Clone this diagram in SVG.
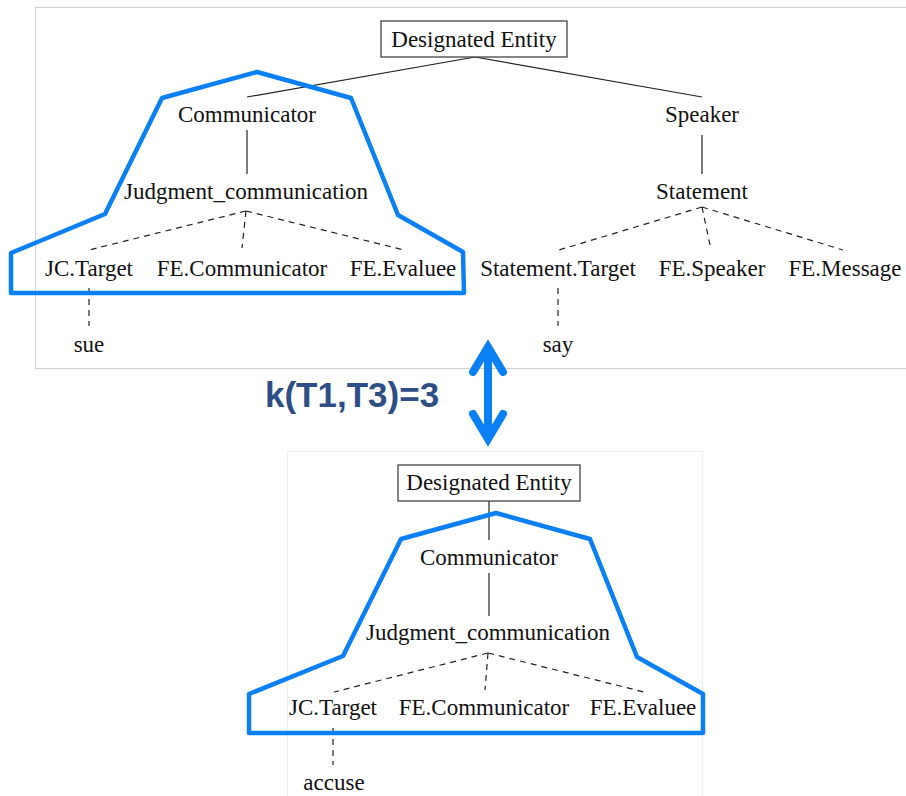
<svg xmlns="http://www.w3.org/2000/svg" width="906" height="796" viewBox="0 0 906 796">
<style>
  .t { font-family: "Liberation Serif", "Times New Roman", serif; font-size: 23px; fill: #111; text-anchor: middle; }
  .solid { stroke: #222; stroke-width: 1.2; fill: none; }
  .dash { stroke: #222; stroke-width: 1.2; fill: none; stroke-dasharray: 6 5; }
  .box { fill: #fff; stroke: #444; stroke-width: 1.3; }
  .hl { fill: none; stroke: #0B80F5; stroke-width: 4.5; stroke-linejoin: round; }
  .frame { fill: none; stroke: #cfcfcf; stroke-width: 1; }
  .frame2 { fill: none; stroke: #efefef; stroke-width: 1; }
  .arrow { fill: none; stroke: #0B80F5; stroke-width: 8; stroke-linecap: round; stroke-linejoin: miter; }
  .k { font-family: "Liberation Sans", Arial, sans-serif; font-weight: bold; font-size: 35px; fill: #2D4F86; }
</style>
<rect width="906" height="796" fill="#fff"/>
<rect class="frame" x="35.5" y="7.5" width="880" height="361"/>
<rect class="frame2" x="287.5" y="451.5" width="415" height="360"/>

<g id="connectors">
  <path class="solid" d="M475 57 L247 97 M475 57 L702 97"/>
  <path class="solid" d="M247 130 L247 174"/>
  <path class="dash" d="M246 211 L89 250 M246 211 L242 248 M246 211 L404 250"/>
  <path class="dash" d="M89 288 L89 326"/>
  <path class="solid" d="M702 135 L702 174"/>
  <path class="dash" d="M702 207 L559 250 M702 207 L710 245 M702 207 L843 250"/>
  <path class="dash" d="M558 288 L558 326"/>
  <path class="solid" d="M489 501 L489 540"/>
  <path class="solid" d="M489 573 L489 616"/>
  <path class="dash" d="M488 653 L334 692 M488 653 L485 690 M488 653 L644 692"/>
  <path class="dash" d="M333 728 L333 765"/>
</g>

<g id="top-root"><rect class="box" x="381" y="21" width="186" height="36"/><text class="t" x="474" y="47">Designated Entity</text></g>
<g id="top-communicator"><text class="t" x="247" y="122">Communicator</text></g>
<g id="top-judgment"><text class="t" x="246" y="199">Judgment_communication</text></g>
<g id="top-jctarget"><text class="t" x="89" y="276">JC.Target</text></g>
<g id="top-fecommunicator"><text class="t" x="242" y="276">FE.Communicator</text></g>
<g id="top-feevaluee"><text class="t" x="403" y="276">FE.Evaluee</text></g>
<g id="top-sue"><text class="t" x="89" y="352">sue</text></g>
<g id="top-speaker"><text class="t" x="702" y="122">Speaker</text></g>
<g id="top-statement"><text class="t" x="702" y="199">Statement</text></g>
<g id="top-statementtarget"><text class="t" x="558" y="276">Statement.Target</text></g>
<g id="top-fespeaker"><text class="t" x="712" y="276">FE.Speaker</text></g>
<g id="top-femessage"><text class="t" x="845" y="276">FE.Message</text></g>
<g id="top-say"><text class="t" x="558" y="352">say</text></g>

<g id="bottom-root"><rect class="box" x="398" y="465" width="182" height="36"/><text class="t" x="489" y="490">Designated Entity</text></g>
<g id="bottom-communicator"><text class="t" x="489" y="565">Communicator</text></g>
<g id="bottom-judgment"><text class="t" x="488" y="640">Judgment_communication</text></g>
<g id="bottom-jctarget"><text class="t" x="333" y="715">JC.Target</text></g>
<g id="bottom-fecommunicator"><text class="t" x="484" y="715">FE.Communicator</text></g>
<g id="bottom-feevaluee"><text class="t" x="643" y="715">FE.Evaluee</text></g>
<g id="bottom-accuse"><text class="t" x="334" y="790">accuse</text></g>

<g id="highlight-top"><polygon class="hl" points="257,72 351,98 398,215 463,252 464,293 11,293 11,253 105,214 162,98"/></g>
<g id="highlight-bottom"><polygon class="hl" points="496,513 590,539 637,657 703,694 703,733 249,733 249,694 343,656 401,539"/></g>

<g id="similarity">
  <path class="arrow" d="M488 350 L488 436"/>
  <path class="arrow" d="M473 372 L488 347 L503 372"/>
  <path class="arrow" d="M473 414 L488 439 L503 414"/>
  <text class="k" x="265" y="407">k(T1,T3)=3</text>
</g>
</svg>
